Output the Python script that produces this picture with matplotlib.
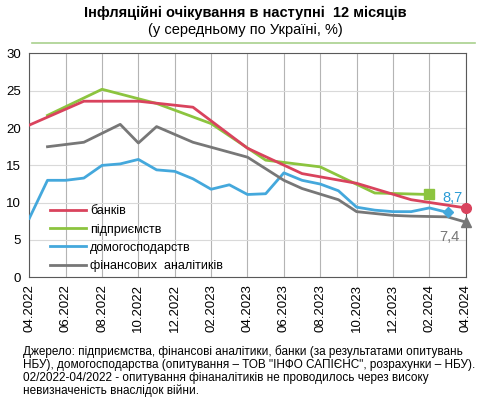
import numpy as np
import pandas as pd
import matplotlib
matplotlib.use("Agg")
import matplotlib.pyplot as plt
from matplotlib.lines import Line2D

plt.rcParams['font.family'] = ['Liberation Sans', 'DejaVu Sans']

### DATA ###
banks_m = ["2022-04", "2022-07", "2022-10", "2023-01", "2023-04", "2023-07", "2023-10", "2024-01", "2024-04"]
banks_v = [20.4, 23.6, 23.6, 22.8, 17.3, 13.9, 12.6, 10.4, 9.3]

firms_m = ["2022-05", "2022-08", "2022-11", "2023-02", "2023-05", "2023-08", "2023-11", "2024-02"]
firms_v = [21.7, 25.2, 23.3, 20.6, 15.7, 14.8, 11.3, 11.1]

house_m = ["2022-04", "2022-05", "2022-06", "2022-07", "2022-08", "2022-09", "2022-10", "2022-11",
           "2022-12", "2023-01", "2023-02", "2023-03", "2023-04", "2023-05", "2023-06", "2023-07",
           "2023-08", "2023-09", "2023-10", "2023-11", "2023-12", "2024-01", "2024-02", "2024-03"]
house_v = [7.9, 13.0, 13.0, 13.3, 15.0, 15.2, 15.8, 14.4,
           14.2, 13.2, 11.8, 12.4, 11.1, 11.2, 14.0, 13.0,
           12.5, 11.6, 9.4, 9.0, 8.8, 8.8, 9.3, 8.7]

anal_m = ["2022-05", "2022-07", "2022-09", "2022-10", "2022-11", "2023-01", "2023-04", "2023-06",
          "2023-07", "2023-09", "2023-10", "2023-12", "2024-01", "2024-03", "2024-04"]
anal_v = [17.5, 18.1, 20.5, 18.0, 20.2, 18.1, 16.1, 13.0,
          11.9, 10.4, 8.8, 8.3, 8.2, 8.1, 7.4]

tick_labels = ["04.2022", "06.2022", "08.2022", "10.2022", "12.2022", "02.2023", "04.2023",
               "06.2023", "08.2023", "10.2023", "12.2023", "02.2024", "04.2024"]

# month index counted from 04.2022
def midx(months):
    p = pd.PeriodIndex(months, freq="M")
    return np.array([(x - pd.Period("2022-04", freq="M")).n for x in p])

RED = "#D9435D"
GREEN = "#8CC43F"
BLUE = "#44A8DC"
GRAY = "#777777"

fig = plt.figure(figsize=(4.9, 3.99), dpi=100)
ax = fig.add_axes([0.0598, 0.305, 0.8906, 0.561])

xb, xf, xh, xa = midx(banks_m), midx(firms_m), midx(house_m), midx(anal_m)
ax.plot(xh, house_v, color=BLUE, lw=2, zorder=3)
ax.plot(xa, anal_v, color=GRAY, lw=2, zorder=3)
ax.plot(xf, firms_v, color=GREEN, lw=2, zorder=4)
ax.plot(xb, banks_v, color=RED, lw=2, zorder=5)

# end markers
ax.plot(xb[-1], banks_v[-1], "o", color=RED, ms=7, zorder=6, clip_on=False)
ax.plot(xf[-1], firms_v[-1], "s", color=GREEN, ms=7, zorder=6)
ax.plot(xh[-1], house_v[-1], "D", color=BLUE, ms=5, zorder=6)
ax.plot(xa[-1], anal_v[-1], "^", color=GRAY, ms=7, zorder=6, clip_on=False)

ax.text(23.25, 10.6, "8,7", color="#2A9BD5", fontsize=10.5, ha="center", va="center")
ax.text(23.1, 5.4, "7,4", color=GRAY, fontsize=10.5, ha="center", va="center")

ax.set_xlim(0, 24)
ax.set_ylim(0, 30)
ax.set_yticks(np.arange(0, 31, 5))
ax.set_xticks(np.arange(0, 25, 2))
ax.set_xticklabels(tick_labels, rotation=90)
ax.tick_params(axis="both", length=0, labelsize=9.5, colors="black")
ax.tick_params(axis="y", pad=6)
ax.tick_params(axis="x", pad=5)
ax.yaxis.grid(True, color="#D9D9D9", lw=0.8)
ax.xaxis.grid(True, color="#B4B4B4", lw=0.8)
ax.set_axisbelow(True)
for s in ax.spines.values():
    s.set_color("#595959")
    s.set_linewidth(0.8)

handles = [Line2D([], [], color=RED, lw=2), Line2D([], [], color=GREEN, lw=2),
           Line2D([], [], color=BLUE, lw=2), Line2D([], [], color=GRAY, lw=2)]
ax.legend(handles, ["банків", "підприємств", "домогосподарств", "фінансових  аналітиків"],
          loc="lower left", bbox_to_anchor=(0.03, -0.01), frameon=False, fontsize=9,
          handlelength=2.9, handletextpad=0.3, labelspacing=0.5, borderaxespad=0.2)

fig.text(0.5, 0.968, "Інфляційні очікування в наступні  12 місяців", ha="center", va="center",
         fontsize=10.5, fontweight="bold")
fig.text(0.5, 0.924, "(у середньому по Україні, %)", ha="center", va="center", fontsize=10.5)
fig.add_artist(Line2D([0.065, 0.97], [0.892, 0.892], color="#A9D18E", lw=1.2))

note = ("Джерело: підприємства, фінансові аналітики, банки (за результатами опитувань\n"
        "НБУ), домогосподарства (опитування – ТОВ \"ІНФО САПІЄНС\", розрахунки – НБУ).\n"
        "02/2022-04/2022 - опитування фінаналітиків не проводилось через високу\n"
        "невизначеність внаслідок війни.")
fig.text(0.047, 0.07, note, ha="left", va="center", fontsize=8.5, linespacing=1.08)

fig.savefig("out.png", dpi=100)
